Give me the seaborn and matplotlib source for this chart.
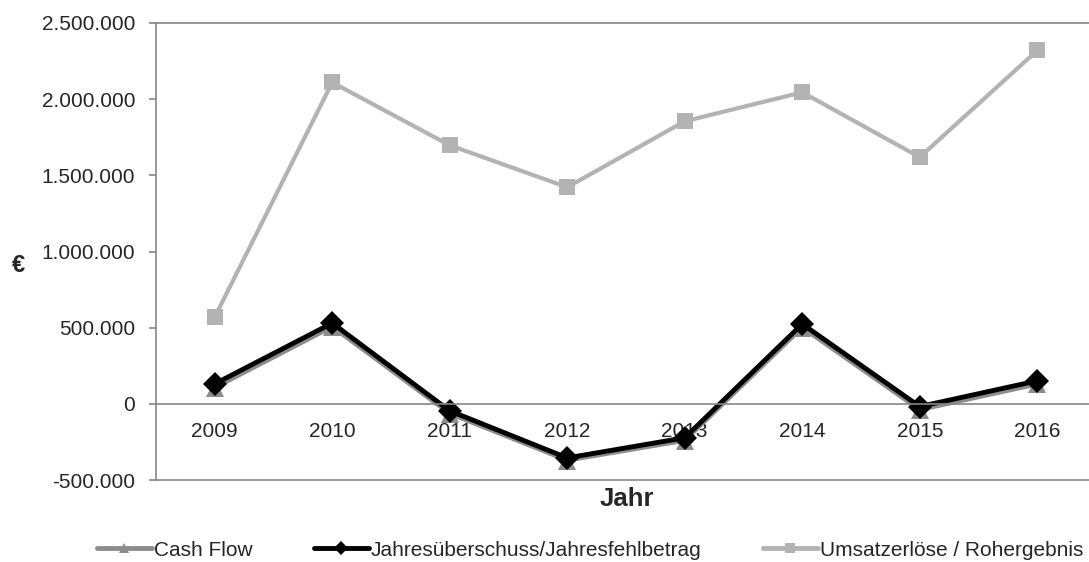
import pandas as pd
import seaborn as sns
import matplotlib.pyplot as plt

# chart values
years = ["2009", "2010", "2011", "2012", "2013", "2014", "2015", "2016"]
cash_flow = [105000, 505000, -65000, -372000, -242000, 500000, -40000, 128000]
jahresueberschuss = [131000, 530000, -46000, -355000, -223000, 524000, -18000, 151000]
umsatz = [570000, 2110000, 1697000, 1422000, 1855000, 2045000, 1619000, 2320000]
y_ticks = [-500000, 0, 500000, 1000000, 1500000, 2000000, 2500000]

series_names = ["Cash Flow", "Jahresüberschuss/Jahresfehlbetrag", "Umsatzerlöse / Rohergebnis"]
series_values = [cash_flow, jahresueberschuss, umsatz]

sns.set_style("white")
plt.rcParams['font.family'] = ['Liberation Sans', 'DejaVu Sans']

fig = plt.figure(figsize=(10.89, 5.62), dpi=100)
ax = fig.add_axes([156 / 1089, 1 - 480 / 562, (1096 - 156) / 1089, (480 - 23) / 562])

colors = ["#8c8c8c", "#000000", "#b3b3b3"]
markers = ["^", "D", "s"]
msizes = [13, 12, 11.5]
lwidths = [3, 3.5, 3]

for name, vals, c, m, ms, lw in zip(series_names, series_values, colors, markers, msizes, lwidths):
    df = pd.DataFrame({"pos": range(len(years)), "wert": vals})
    sns.lineplot(data=df, x="pos", y="wert", color=c, marker=m, markersize=ms,
                 markeredgewidth=0, linewidth=lw, ax=ax, legend=False)

ax.set_xlim(-0.5, 7.5)
ax.set_ylim(-500000, 2500000)

# bottom spine acts as category axis at zero
ax.spines['bottom'].set_position(('data', 0))
for s in ['bottom', 'left', 'top']:
    ax.spines[s].set_color('#868686')
    ax.spines[s].set_linewidth(1.2)
ax.spines['right'].set_visible(False)
ax.axhline(-500000, color='#868686', linewidth=1.2, clip_on=False)

ax.set_yticks(y_ticks)
ax.set_yticklabels([f"{v:,}".replace(",", ".") for v in y_ticks])
ax.set_xticks([i + 0.5 for i in range(len(years) - 1)])
ax.set_xticklabels([])
ax.set_xticks(range(len(years)), minor=True)
ax.set_xticklabels(years, minor=True)
ax.tick_params(axis='x', which='major', direction='out', length=5, color='#868686', width=1.2)
ax.tick_params(axis='x', which='minor', length=0, pad=13, labelsize=15, labelcolor='#262626')
ax.tick_params(axis='y', direction='out', length=5, color='#868686', width=1.2,
               pad=10, labelsize=15, labelcolor='#262626', left=True)
ax.set_xlabel("")
ax.set_ylabel("")

fig.text(627 / 1089, 1 - 499 / 562, "Jahr", ha='center', va='center',
         fontsize=18.5, fontweight='bold')
fig.text(18 / 1089, 1 - 265 / 562, "€", ha='center', va='center',
         fontsize=17, fontweight='bold')

handles = [plt.Line2D([], [], color=c, marker=m, linewidth=3.5,
                      markersize=7, markeredgewidth=0) for c, m in zip(colors, markers)]
fig.legend(handles, series_names, loc='center', bbox_to_anchor=(590 / 1089, 1 - 550 / 562),
           ncol=3, frameon=False, fontsize=15, handlelength=2.65, handletextpad=0.08,
           columnspacing=2.95, labelcolor='#262626', borderpad=0, borderaxespad=0)

plt.savefig("out.png", dpi=100)
